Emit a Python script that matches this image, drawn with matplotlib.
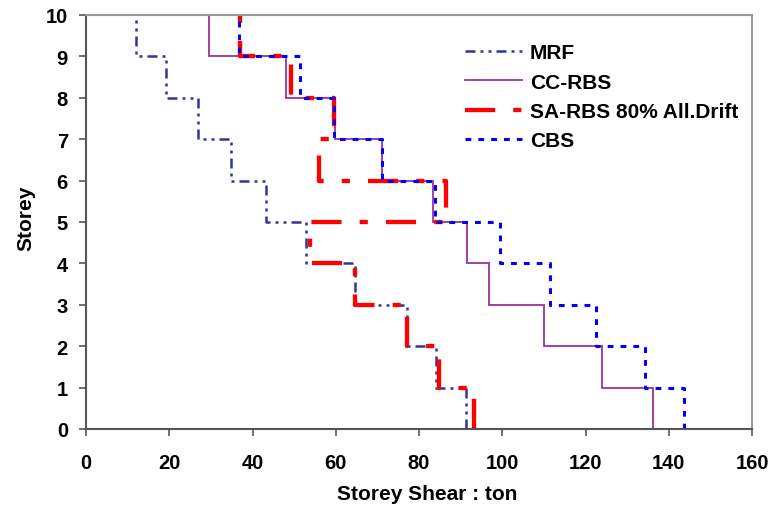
import numpy as np
import matplotlib
matplotlib.use("Agg")
import matplotlib.pyplot as plt

plt.rcParams['font.family'] = ['Liberation Sans', 'DejaVu Sans']
plt.rcParams['font.weight'] = 'bold'

# Storey shear (ton) for each storey, storey 1 (bottom) to storey 10 (top)
storeys = np.arange(0, 11)
mrf = [91.3, 84.1, 77.0, 64.6, 52.8, 43.3, 34.9, 26.9, 19.3, 12.0]
cc_rbs = [136.3, 124.0, 110.0, 96.7, 91.5, 83.3, 71.0, 59.8, 48.1, 29.6]
sa_rbs = [93.3, 84.9, 77.0, 64.5, 53.8, 86.5, 56.0, 59.6, 49.2, 36.9]
cbs = [143.7, 134.3, 122.5, 111.4, 99.5, 83.9, 71.2, 59.6, 51.3, 36.7]

series_names = ["MRF", "CC-RBS", "SA-RBS 80% All.Drift", "CBS"]
x_ticks = [0, 20, 40, 60, 80, 100, 120, 140, 160]
y_ticks = list(range(0, 11))


def step_profile(values):
    """Vertical step profile: each storey's shear held constant over its height."""
    xs = np.repeat(values, 2)
    ys = np.empty(2 * len(values))
    ys[0::2] = storeys[:-1]
    ys[1::2] = storeys[1:]
    return xs, ys


fig = plt.figure(figsize=(7.73, 5.06), dpi=100)
ax = fig.add_axes([0.1113, 0.1502, 0.8616, 0.8182])

styles = [
    dict(color="#333399", lw=1.8, dashes=(4, 2, 1.2, 2, 1.2, 2)),
    dict(color="#993399", lw=1.3, linestyle="-"),
    dict(color="#FF0000", lw=3.1, dashes=(7, 4.2, 1.9, 4.2)),
    dict(color="#0000FF", lw=2.2, dashes=(1.9, 2.3)),
]

for vals, name, st in zip([mrf, cc_rbs, sa_rbs, cbs], series_names, styles):
    xs, ys = step_profile(vals)
    ax.plot(xs, ys, label=name, solid_joinstyle="miter", dash_capstyle="butt", **st)

ax.set_xlim(0, 160)
ax.set_ylim(0, 10)
ax.set_xticks(x_ticks)
ax.set_yticks(y_ticks)
ax.tick_params(axis="both", labelsize=14.5, direction="out", length=5, width=1.2,
               color="#555555")
ax.tick_params(axis="x", pad=12)
ax.tick_params(axis="y", pad=8)
for lab in ax.get_xticklabels() + ax.get_yticklabels():
    lab.set_fontweight("bold")

for side in ["left", "bottom"]:
    ax.spines[side].set_color("#555555")
    ax.spines[side].set_linewidth(1.5)
for side in ["top", "right"]:
    ax.spines[side].set_color("#999999")
    ax.spines[side].set_linewidth(1.5)

ax.set_xlabel("Storey Shear : ton", fontsize=15, fontweight="bold")
ax.xaxis.set_label_coords(0.512, -0.133)
ax.set_ylabel("Storey", fontsize=15, fontweight="bold")
ax.yaxis.set_label_coords(-0.076, 0.512)

leg = ax.legend(loc="upper left", bbox_to_anchor=(0.569, 0.932), frameon=False,
                fontsize=15, handlelength=2.74, handletextpad=0.38,
                labelspacing=0.5, borderaxespad=0, borderpad=0)
for t in leg.get_texts():
    t.set_fontweight("bold")

fig.savefig("out.png", dpi=100)
